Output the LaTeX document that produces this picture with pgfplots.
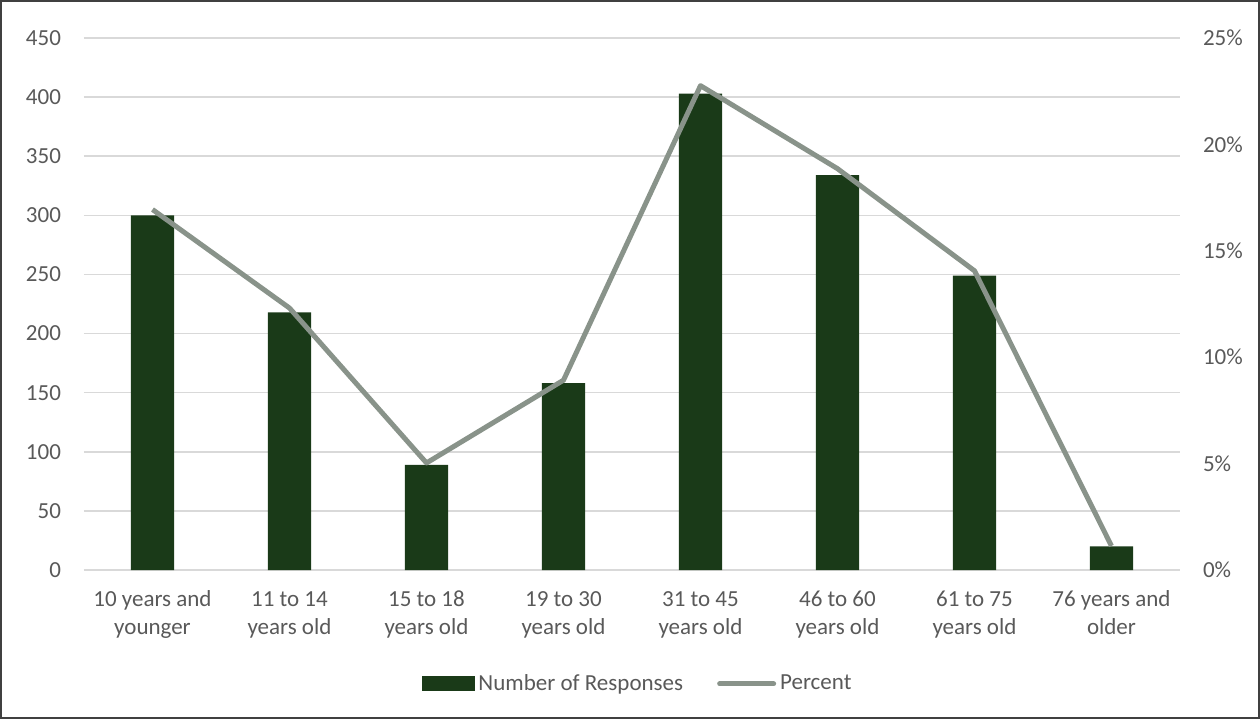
\documentclass[border=0pt]{standalone}
\usepackage{pgfplots}
\pgfplotsset{compat=1.18}
\usepackage{fontspec}
\setmainfont{Carlito}
\definecolor{barcol}{HTML}{1A3A18}
\definecolor{linecol}{HTML}{89938A}
\definecolor{gridcol}{HTML}{D9D9D9}
\definecolor{txtcol}{HTML}{595959}
\begin{document}
\begin{tikzpicture}
\pgfplotsset{
  base/.style={
    scale only axis, width=548pt, height=266pt,
    xmin=-0.5, xmax=7.5, ymin=0,
    axis line style={draw=none},
    tick style={draw=none},
    ticklabel style={font=\fontsize{11.5}{14}\selectfont, text=txtcol},
    /pgf/number format/assume math mode=true,
  }
}
\begin{axis}[base,
  ymax=450, ytick={0,50,...,450},
  ymajorgrids, grid style={gridcol, line width=0.75pt},
  xtick={0,...,7},
  xticklabels={{\strut 10 years and\\\strut younger},{\strut 11 to 14\\\strut years old},{\strut 15 to 18\\\strut years old},{\strut 19 to 30\\\strut years old},{\strut 31 to 45\\\strut years old},{\strut 46 to 60\\\strut years old},{\strut 61 to 75\\\strut years old},{\strut 76 years and\\\strut older}},
  xticklabel style={align=center, anchor=north, yshift=-5pt},
  yticklabel style={anchor=east, xshift=-8pt},
]
\addplot[ybar, bar width=0.315, fill=barcol, draw=none] coordinates {
(0,300) (1,218) (2,89) (3,158) (4,403) (5,334) (6,249) (7,20)};
\end{axis}
\begin{axis}[base,
  axis y line*=right,
  ymax=25, ytick={0,5,...,25},
  yticklabel={\pgfmathprintnumber{\tick}\%},
  yticklabel style={anchor=west, xshift=8pt},
  xtick=\empty,
  legend style={at={(0.506,-0.214)}, anchor=center, draw=none, fill=none,
    legend columns=2, font=\fontsize{11.5}{14}\selectfont, text=txtcol,
    /tikz/every even column/.append style={column sep=15pt}},
]
\addlegendimage{legend image code/.code={\fill[barcol] (0pt,-3.5pt) rectangle (26pt,3.5pt);}}
\addlegendentry{Number of Responses}
\addlegendimage{legend image code/.code={\draw[linecol, line width=2.5pt, line cap=round] (0pt,0pt) -- (27pt,0pt);}}
\addlegendentry{Percent}
\addplot[linecol, line width=2.5pt, line join=round, mark=none, forget plot] coordinates {
(0,16.94) (1,12.31) (2,5.03) (3,8.92) (4,22.76) (5,18.86) (6,14.06) (7,1.13)};
\end{axis}
\draw[black!75, line width=0.75pt] (-41.6pt,-74.1pt) rectangle (587.6pt,284.6pt);
\useasboundingbox (-42pt,-74.5pt) rectangle (588pt,285pt);
\end{tikzpicture}
\end{document}
